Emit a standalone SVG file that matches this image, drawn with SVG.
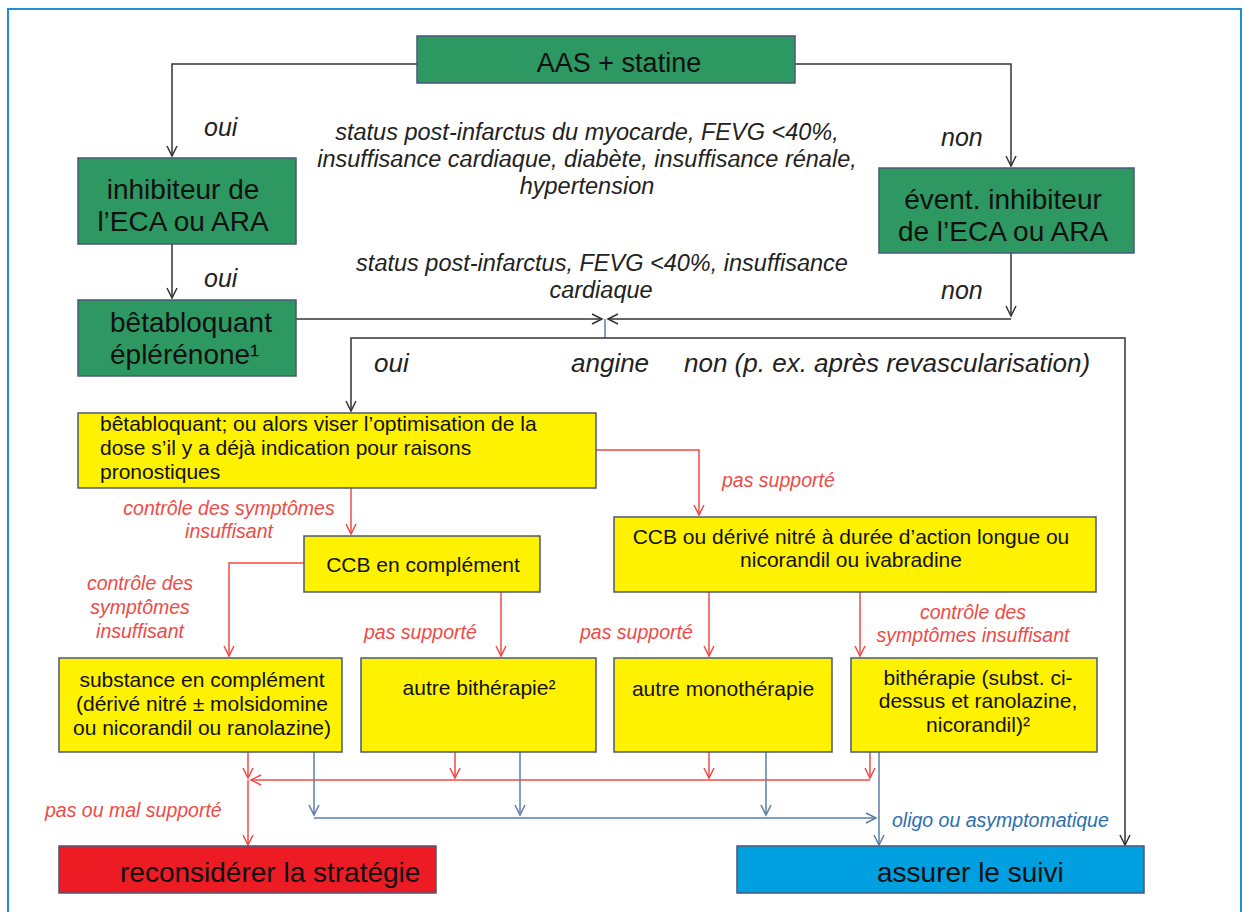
<svg xmlns="http://www.w3.org/2000/svg" width="1243" height="912" viewBox="0 0 1243 912">
<style>
.bx{stroke:#4a5878;stroke-width:1.5}
.g{fill:#2e9862}.y{fill:#fff200}.r{fill:#ed1c24}.b{fill:#009fdf}
text{font-family:"Liberation Sans",Arial,sans-serif;fill:#111}
.t28{font-size:28px}.t21{font-size:21px}
.lab{font-style:italic;fill:#222}
.rl{font-style:italic;fill:#f04a45;font-size:19.5px}
.bl{font-style:italic;fill:#2a6fae;font-size:19.5px}
.k{fill:none;stroke:#333;stroke-width:1.5}
.rd{fill:none;stroke:#f04a45;stroke-width:1.5}
.bu{fill:none;stroke:#5a7ea8;stroke-width:1.5}
.mid{text-anchor:middle}
</style>
<defs>
<marker id="ak" markerUnits="userSpaceOnUse" markerWidth="12" markerHeight="12" refX="10" refY="5" orient="auto" overflow="visible"><path d="M0,0 L10,5 L0,10" fill="none" stroke="#333" stroke-width="1.5"/></marker>
<marker id="ar" markerUnits="userSpaceOnUse" markerWidth="12" markerHeight="12" refX="10" refY="5" orient="auto" overflow="visible"><path d="M0,0 L10,5 L0,10" fill="none" stroke="#f04a45" stroke-width="1.5"/></marker>
<marker id="ab" markerUnits="userSpaceOnUse" markerWidth="12" markerHeight="12" refX="10" refY="5" orient="auto" overflow="visible"><path d="M0,0 L10,5 L0,10" fill="none" stroke="#5a7ea8" stroke-width="1.5"/></marker>
</defs>
<rect x="0" y="0" width="1243" height="912" fill="#fff"/>
<rect x="8" y="9" width="1233" height="920" fill="none" stroke="#1f8fd8" stroke-width="2"/>

<g id="connectors">
<path class="k" d="M417,64 H172 V156" marker-end="url(#ak)"/>
<path class="k" d="M795,64 H1011 V166" marker-end="url(#ak)"/>
<path class="k" d="M172,244 V298" marker-end="url(#ak)"/>
<path class="k" d="M1011,253 V316" marker-end="url(#ak)"/>
<path class="k" d="M1011,319 H608" marker-end="url(#ak)"/>
<path class="k" d="M296,319 H602" marker-end="url(#ak)"/>
<path class="bu" d="M605,319 V338"/>
<path class="k" d="M605,338 H351 V411" marker-end="url(#ak)"/>
<path class="k" d="M605,338 H1125 V845" marker-end="url(#ak)"/>
<path class="rd" d="M596,450 H699 V515" marker-end="url(#ar)"/>
<path class="rd" d="M351,488 V534" marker-end="url(#ar)"/>
<path class="rd" d="M304,563 H229 V656" marker-end="url(#ar)"/>
<path class="rd" d="M501,592 V656" marker-end="url(#ar)"/>
<path class="rd" d="M709,592 V656" marker-end="url(#ar)"/>
<path class="rd" d="M860,592 V656" marker-end="url(#ar)"/>
<path class="rd" d="M248,752 V778" marker-end="url(#ar)"/>
<path class="rd" d="M455,752 V778" marker-end="url(#ar)"/>
<path class="rd" d="M709,752 V778" marker-end="url(#ar)"/>
<path class="rd" d="M870,752 V778" marker-end="url(#ar)"/>
<path class="rd" d="M870,780 H251" marker-end="url(#ar)"/>
<path class="rd" d="M248,780 V845" marker-end="url(#ar)"/>
<path class="bu" d="M314,752 V815" marker-end="url(#ab)"/>
<path class="bu" d="M520,752 V815" marker-end="url(#ab)"/>
<path class="bu" d="M766,752 V815" marker-end="url(#ab)"/>
<path class="bu" d="M314,818 H876" marker-end="url(#ab)"/>
<path class="bu" d="M879,752 V845" marker-end="url(#ab)"/>
</g>

<g id="labels">
<text class="lab" x="204" y="136" font-size="25">oui</text>
<text class="lab" x="204" y="287" font-size="25">oui</text>
<text class="lab" x="941" y="146" font-size="25">non</text>
<text class="lab" x="941" y="299" font-size="25">non</text>
<text class="lab mid" font-size="23.5"><tspan x="587" y="140">status post-infarctus du myocarde, FEVG &lt;40%,</tspan><tspan x="587" y="167">insuffisance cardiaque, diabète, insuffisance rénale,</tspan><tspan x="587" y="194">hypertension</tspan></text>
<text class="lab mid" font-size="23.5"><tspan x="602" y="271">status post-infarctus, FEVG &lt;40%, insuffisance</tspan><tspan x="601" y="298">cardiaque</tspan></text>
<text class="lab" x="374" y="372" font-size="26">oui</text>
<text class="lab" x="571" y="372" font-size="26">angine</text>
<text class="lab" x="684" y="372" font-size="26">non (p. ex. après revascularisation)</text>
<text class="rl" x="722" y="487">pas supporté</text>
<text class="rl mid"><tspan x="229" y="515">contrôle des symptômes</tspan><tspan x="229" y="538">insuffisant</tspan></text>
<text class="rl mid"><tspan x="140" y="590">contrôle des</tspan><tspan x="140" y="614">symptômes</tspan><tspan x="140" y="638">insuffisant</tspan></text>
<text class="rl" x="364" y="639">pas supporté</text>
<text class="rl" x="580" y="639">pas supporté</text>
<text class="rl mid"><tspan x="973" y="619">contrôle des</tspan><tspan x="973" y="642">symptômes insuffisant</tspan></text>
<text class="rl" x="45" y="817">pas ou mal supporté</text>
<text class="bl" x="892" y="827">oligo ou asymptomatique</text>
</g>

<g id="n-aas"><rect class="bx g" x="417" y="36" width="378" height="47"/><text class="mid" x="619" y="72" font-size="27">AAS + statine</text></g>
<g id="n-ieca"><rect class="bx g" x="78" y="158" width="218" height="86"/><text class="t28 mid"><tspan x="183" y="199">inhibiteur de</tspan><tspan x="183" y="231">l’ECA ou ARA</tspan></text></g>
<g id="n-event"><rect class="bx g" x="879" y="168" width="255" height="85"/><text class="t28 mid"><tspan x="1003" y="209">évent. inhibiteur</tspan><tspan x="1003" y="241">de l’ECA ou ARA</tspan></text></g>
<g id="n-beta"><rect class="bx g" x="78" y="300" width="218" height="76"/><text class="t28"><tspan x="110" y="332">bêtabloquant</tspan><tspan x="110" y="364">éplérénone¹</tspan></text></g>
<g id="n-betaopt"><rect class="bx y" x="78" y="413" width="518" height="75"/><text class="t21"><tspan x="100" y="431">bêtabloquant; ou alors viser l’optimisation de la</tspan><tspan x="100" y="455">dose s’il y a déjà indication pour raisons</tspan><tspan x="100" y="479">pronostiques</tspan></text></g>
<g id="n-ccb"><rect class="bx y" x="304" y="536" width="236" height="56"/><text class="t21 mid" x="423" y="572">CCB en complément</text></g>
<g id="n-ccbou"><rect class="bx y" x="614" y="517" width="482" height="75"/><text class="t21 mid"><tspan x="851" y="544">CCB ou dérivé nitré à durée d’action longue ou</tspan><tspan x="851" y="567">nicorandil ou ivabradine</tspan></text></g>
<g id="n-subst"><rect class="bx y" x="59" y="658" width="283" height="94"/><text class="t21 mid"><tspan x="202" y="687">substance en complément</tspan><tspan x="202" y="711">(dérivé nitré ± molsidomine</tspan><tspan x="202" y="735">ou nicorandil ou ranolazine)</tspan></text></g>
<g id="n-autrebi"><rect class="bx y" x="361" y="658" width="235" height="94"/><text class="t21 mid" x="479" y="695">autre bithérapie²</text></g>
<g id="n-autremono"><rect class="bx y" x="614" y="658" width="218" height="94"/><text class="t21 mid" x="723" y="696">autre monothérapie</text></g>
<g id="n-bi"><rect class="bx y" x="851" y="658" width="246" height="94"/><text class="t21 mid"><tspan x="978" y="685">bithérapie (subst. ci-</tspan><tspan x="978" y="708">dessus et ranolazine,</tspan><tspan x="978" y="732">nicorandil)²</tspan></text></g>
<g id="n-recons"><rect class="bx r" x="59" y="846" width="377" height="47"/><text class="t28" x="120" y="882">reconsidérer la stratégie</text></g>
<g id="n-suivi"><rect class="bx b" x="737" y="846" width="407" height="47"/><text class="t28" x="877" y="882">assurer le suivi</text></g>
</svg>
